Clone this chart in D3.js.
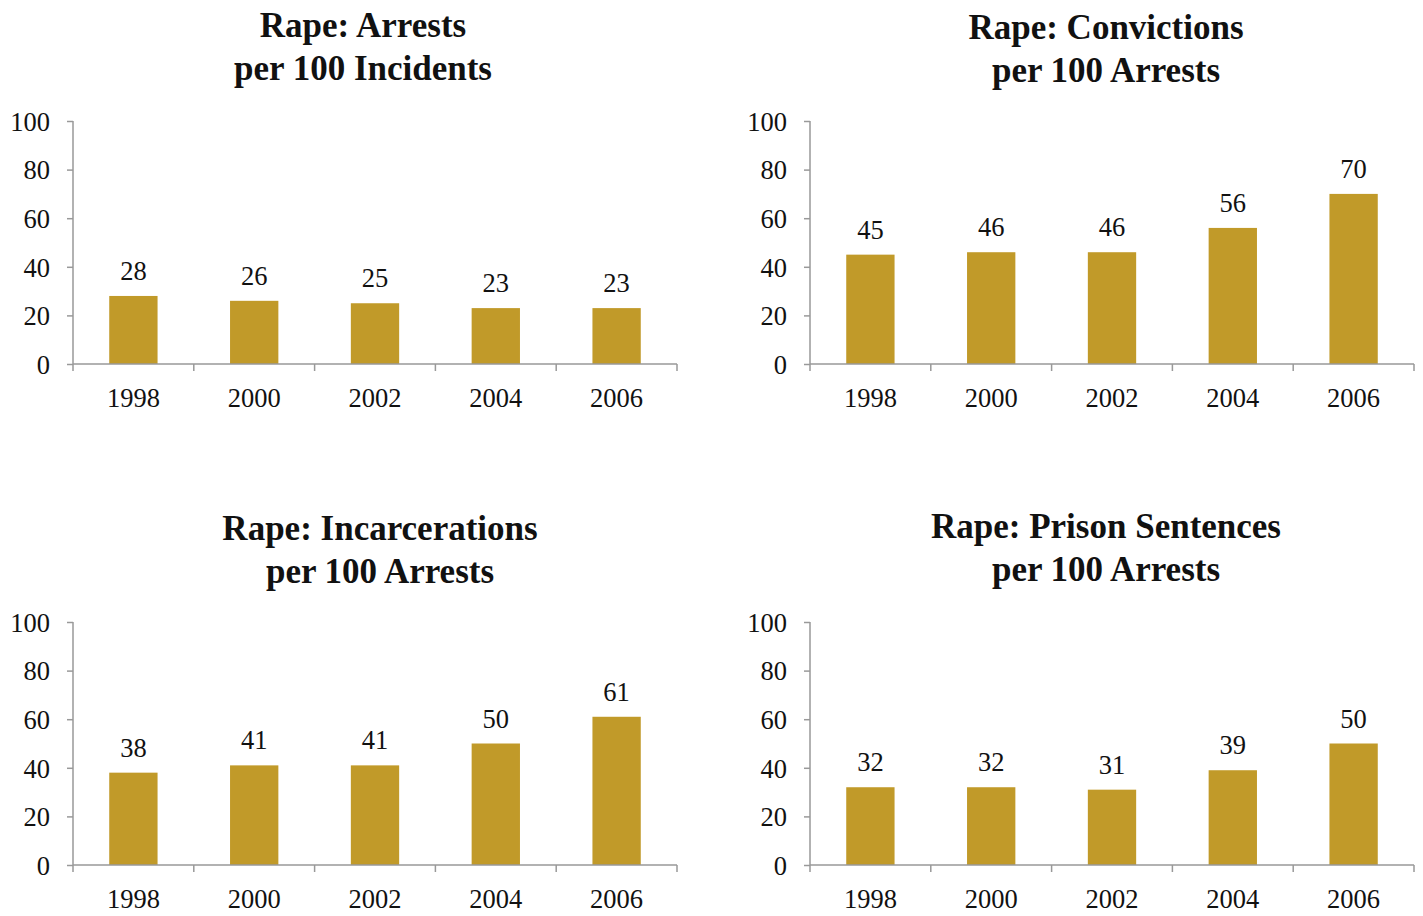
<!DOCTYPE html>
<html>
<head>
<meta charset="utf-8">
<script src="https://cdn.jsdelivr.net/npm/d3@7"></script>
<style>
  html, body { margin: 0; padding: 0; background: #fff; }
  svg { display: block; }
</style>
</head>
<body>
<svg id="chart" width="1423" height="916"></svg>
<script>
// Years shown on every panel
const years = ["1998", "2000", "2002", "2004", "2006"];

// Rates per 100 for each panel
const arrestsPerIncidents = [28, 26, 25, 23, 23];
const convictionsPerArrests = [45, 46, 46, 56, 70];
const incarcerationsPerArrests = [38, 41, 41, 50, 61];
const prisonPerArrests = [32, 32, 31, 39, 50];

// Y axis ticks
const yTicks = [0, 20, 40, 60, 80, 100];

// Panel titles (two lines each)
const titles = [
  ["Rape: Arrests", "per 100 Incidents"],
  ["Rape: Convictions", "per 100 Arrests"],
  ["Rape: Incarcerations", "per 100 Arrests"],
  ["Rape: Prison Sentences", "per 100 Arrests"]
];

const panels = [
  { title: titles[0], values: arrestsPerIncidents,      x0: 73,  y0: 121, titleX: 363,  titleY: 25 },
  { title: titles[1], values: convictionsPerArrests,    x0: 810, y0: 121, titleX: 1106, titleY: 27 },
  { title: titles[2], values: incarcerationsPerArrests, x0: 73,  y0: 622, titleX: 380,  titleY: 528 },
  { title: titles[3], values: prisonPerArrests,         x0: 810, y0: 622, titleX: 1106, titleY: 526 }
];

const plotW = 604, plotH = 243;
const barColor = "#C19A29";
const axisColor = "#999999";
const font = "'Liberation Serif', 'Times New Roman', serif";
const labelSize = "26.5px";

const svg = d3.select("#chart");

panels.forEach(p => {
  const g = svg.append("g").attr("transform", `translate(${p.x0},${p.y0})`);

  const x = d3.scaleBand().domain(years).range([0, plotW]).paddingInner(0.6).paddingOuter(0.3);
  const y = d3.scaleLinear().domain([0, 100]).range([plotH, 0]);

  // Bars
  g.selectAll("rect.bar")
    .data(p.values)
    .join("rect")
    .attr("class", "bar")
    .attr("x", (d, i) => x(years[i]))
    .attr("y", d => y(d))
    .attr("width", x.bandwidth())
    .attr("height", d => y(0) - y(d))
    .attr("fill", barColor);

  // Value labels
  g.selectAll("text.val")
    .data(p.values)
    .join("text")
    .attr("class", "val")
    .attr("x", (d, i) => x(years[i]) + x.bandwidth() / 2)
    .attr("y", d => y(d) - 16)
    .attr("text-anchor", "middle")
    .style("font-family", font)
    .style("font-size", labelSize)
    .attr("fill", "#111")
    .text(d => d);

  // Y axis
  const yAxis = g.append("g")
    .call(d3.axisLeft(y).tickValues(yTicks).tickSize(6).tickPadding(17));
  yAxis.select(".domain").attr("stroke", axisColor).attr("stroke-width", 1.5)
    .attr("d", `M0,${plotH}V0`);
  yAxis.selectAll(".tick line").attr("stroke", axisColor).attr("stroke-width", 1.5);
  yAxis.selectAll(".tick text")
    .style("font-family", font).style("font-size", labelSize).attr("fill", "#111")
    .attr("dy", "0.35em");

  // X axis with tick marks at category boundaries
  const xg = g.append("g").attr("transform", `translate(0,${plotH})`);
  xg.append("line").attr("x1", 0).attr("x2", plotW).attr("y1", 0).attr("y2", 0)
    .attr("stroke", axisColor).attr("stroke-width", 1.5);
  const step = plotW / years.length;
  xg.selectAll("line.bnd")
    .data(d3.range(years.length + 1))
    .join("line")
    .attr("class", "bnd")
    .attr("x1", i => i * step).attr("x2", i => i * step)
    .attr("y1", 0).attr("y2", 7)
    .attr("stroke", axisColor).attr("stroke-width", 1.5);
  xg.selectAll("text.yr")
    .data(years)
    .join("text")
    .attr("class", "yr")
    .attr("x", d => x(d) + x.bandwidth() / 2)
    .attr("y", 43)
    .attr("text-anchor", "middle")
    .style("font-family", font).style("font-size", labelSize).attr("fill", "#111")
    .text(d => d);

  // Title
  const t = svg.append("text")
    .attr("x", p.titleX).attr("y", p.titleY)
    .attr("text-anchor", "middle")
    .style("font-family", font).style("font-size", "35px").style("font-weight", "bold")
    .attr("fill", "#111");
  p.title.forEach((line, i) => {
    t.append("tspan").attr("x", p.titleX).attr("dy", i === 0 ? "0.35em" : "1.23em").text(line);
  });
});
</script>
</body>
</html>
